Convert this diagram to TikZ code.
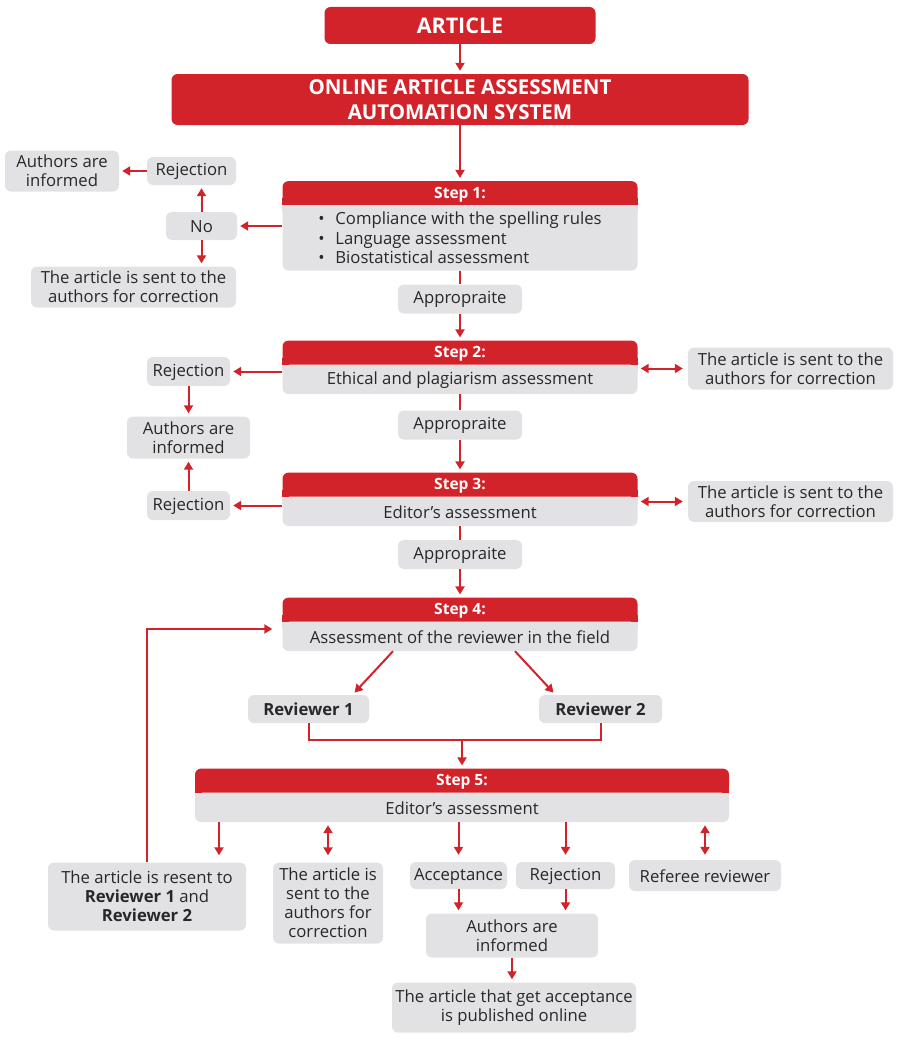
\documentclass[tikz,border=0pt]{standalone}
\usepackage{fontspec}
\setmainfont{Open Sans}
\usetikzlibrary{positioning,arrows.meta}
\definecolor{artred}{RGB}{210,35,42}
\definecolor{boxgray}{RGB}{226,226,228}
\definecolor{txtgray}{RGB}{40,40,40}

\tikzset{
  titlebox/.style={rectangle, rounded corners=6pt, fill=artred, text=white, inner sep=0pt, align=center, font=\bfseries\fontsize{20.5}{25}\selectfont},
  bodybox/.style={rectangle, rounded corners=6pt, fill=boxgray, text=txtgray, inner sep=0pt, align=center, font=\fontsize{16.7}{19}\selectfont},
  linebox/.style={bodybox, text height=14pt},
  headbox/.style={rectangle, rounded corners=6pt, fill=artred, text=white, inner sep=0pt, minimum height=24pt, text height=14pt, font=\bfseries\fontsize{15.5}{18}\selectfont},
  link/.style={line width=2pt, artred},
  arr/.style={link, ->, >={Triangle[length=8pt,width=9pt]}, shorten >=3pt},
  darr/.style={link, <->, >={Triangle[length=8pt,width=9pt]}, shorten >=3pt, shorten <=3pt},
}

\begin{document}
\begin{tikzpicture}[x=1pt, y=-1pt]
\useasboundingbox (0,0) rectangle (900,1049);

\node[titlebox, minimum width=271pt, minimum height=37pt, font=\bfseries\fontsize{21.5}{25}\selectfont] (art) at (460,25.5) {ARTICLE};
\node[titlebox, minimum width=577pt, minimum height=51pt] (oaas) at (460,99.5) {ONLINE ARTICLE ASSESSMENT\\AUTOMATION SYSTEM};

% steps
\node[bodybox, minimum width=355pt, minimum height=65pt, align=left, font=\fontsize{16.7}{19.5}\selectfont] (s1) at (460,238) {\makebox[17pt][l]{•}Compliance with the spelling rules\\\makebox[17pt][l]{•}Language assessment\\\makebox[17pt][l]{•}Biostatistical assessment};
\node[headbox, minimum width=355pt, above=0pt of s1] (h1) {Step 1:};
\node[linebox, minimum width=355pt, minimum height=29pt] (s2) at (460,379.5) {Ethical and plagiarism assessment};
\node[headbox, minimum width=355pt, above=0pt of s2] (h2) {Step 2:};
\node[linebox, minimum width=355pt, minimum height=29pt] (s3) at (460,511.5) {Editor’s assessment};
\node[headbox, minimum width=355pt, above=0pt of s3] (h3) {Step 3:};
\node[linebox, minimum width=355pt, minimum height=29pt] (s4) at (460,636.5) {Assessment of the reviewer in the field};
\node[headbox, minimum width=355pt, above=0pt of s4] (h4) {Step 4:};
\node[linebox, minimum width=534pt, minimum height=29pt] (s5) at (462,807.5) {Editor’s assessment};
\node[headbox, minimum width=534pt, above=0pt of s5] (h5) {Step 5:};
\foreach \s in {1,...,5} {
  \fill[artred] (h\s.south west) rectangle ([xshift=7pt,yshift=7pt]h\s.south west);
  \fill[artred] (h\s.south east) rectangle ([xshift=-7pt,yshift=7pt]h\s.south east);
  \fill[boxgray] (s\s.north west) rectangle ([xshift=7pt,yshift=-7pt]s\s.north west);
  \fill[boxgray] (s\s.north east) rectangle ([xshift=-7pt,yshift=-7pt]s\s.north east);
}

\node[linebox, minimum width=124pt, minimum height=29pt] (app1) at (460,299) {Appropraite};
\node[linebox, minimum width=124pt, minimum height=29pt] (app2) at (460,425) {Appropraite};
\node[linebox, minimum width=124pt, minimum height=29pt] (app3) at (460,554.5) {Appropraite};

% left of step 1
\node[linebox, minimum width=71pt, minimum height=28pt] (no) at (201.5,226) {No};
\node[linebox, minimum width=89pt, minimum height=28pt] (rej1) at (191.5,171) {Rejection};
\node[bodybox, minimum width=114pt, minimum height=41pt] (inf1) at (62,171) {Authors are\\informed};
\node[bodybox, minimum width=205pt, minimum height=41pt] (corr1) at (133.5,287) {The article is sent to the\\authors for correction};

% steps 2 and 3, sides
\node[linebox, minimum width=83pt, minimum height=29pt] (rej2) at (188.5,371.5) {Rejection};
\node[bodybox, minimum width=123pt, minimum height=42pt] (inf2) at (188.5,437.5) {Authors are\\informed};
\node[linebox, minimum width=83pt, minimum height=29pt] (rej3) at (188.5,505.5) {Rejection};
\node[bodybox, minimum width=205pt, minimum height=42pt] (corr2) at (790.5,368.5) {The article is sent to the\\authors for correction};
\node[bodybox, minimum width=205pt, minimum height=41pt] (corr3) at (790.5,501.5) {The article is sent to the\\authors for correction};

% reviewers
\node[linebox, minimum width=121pt, minimum height=28pt, font=\bfseries\fontsize{16.7}{19}\selectfont] (rev1) at (308.5,709) {Reviewer 1};
\node[linebox, minimum width=123pt, minimum height=28pt, font=\bfseries\fontsize{16.7}{19}\selectfont] (rev2) at (600.5,709) {Reviewer 2};

% below step 5
\node[bodybox, minimum width=198pt, minimum height=68pt] (resent) at (147,896.5) {The article is resent to\\\textbf{Reviewer 1} and\\\textbf{Reviewer 2}};
\node[bodybox, minimum width=110pt, minimum height=81pt] (corr5) at (328,903) {The article is\\sent to the\\authors for\\correction};
\node[linebox, minimum width=97pt, minimum height=27pt] (acc) at (458.5,875.5) {Acceptance};
\node[linebox, minimum width=99pt, minimum height=27pt] (rej5) at (565.5,875.5) {Rejection};
\node[linebox, minimum width=152pt, minimum height=31pt] (ref) at (705,875.5) {Referee reviewer};
\node[bodybox, minimum width=172pt, minimum height=44pt] (inf5) at (512,935.5) {Authors are\\informed};
\node[bodybox, minimum width=244pt, minimum height=50pt] (pub) at (514,1007.5) {The article that get acceptance\\is published online};

% connectors
\draw[arr] (art) -- (oaas);
\draw[arr] (oaas) -- (h1);
\draw[arr] (s1.west |- no.east) -- (no.east);
\draw[arr] (no.north) -- (no.north |- rej1.south);
\draw[arr] (rej1.west) -- (rej1.west -| inf1.east);
\draw[arr] (no.south) -- (no.south |- corr1.north);
\draw[link] (s1) -- (app1);
\draw[arr] (app1) -- (h2);

\draw[arr] (s2.west |- rej2.east) -- (rej2.east);
\draw[arr] (rej2) -- (inf2);
\draw[darr, shorten >=5pt] (s2.east |- corr2.west) -- (corr2.west);
\draw[link] (s2) -- (app2);
\draw[arr] (app2) -- (h3);

\draw[arr] (s3.west |- rej3.east) -- (rej3.east);
\draw[arr] (rej3) -- (inf2);
\draw[darr, shorten >=5pt] (s3.east |- corr3.west) -- (corr3.west);
\draw[link] (s3) -- (app3);
\draw[arr] (app3) -- (h4);

\draw[arr] ([xshift=-67pt]s4.south) -- ([xshift=44pt]rev1.north);
\draw[arr] ([xshift=55pt]s4.south) -- ([xshift=-45pt]rev2.north);
\draw[link] (rev1.south) -- ++(0,17) coordinate (rjoin) -| (rev2.south);
\draw[arr] (rjoin -| h5.north) -- (h5.north);

\draw[arr, shorten >=7pt] ([xshift=72pt]resent.north |- s5.south) -- ([xshift=72pt]resent.north);
\draw[darr, shorten >=7pt] (corr5.north |- s5.south) -- (corr5.north);
\draw[arr, shorten >=7pt] (acc.north |- s5.south) -- (acc.north);
\draw[arr, shorten >=7pt] (rej5.north |- s5.south) -- (rej5.north);
\draw[darr, shorten >=5pt] (ref.north |- s5.south) -- (ref.north);
\draw[arr] (acc.south) -- (acc.south |- inf5.north);
\draw[arr] (rej5.south) -- (rej5.south |- inf5.north);
\draw[arr] (inf5.south) -- (inf5.south |- pub.north);
\draw[arr, shorten >=10pt] (resent.north) |- ([yshift=7.5pt]s4.west);
\end{tikzpicture}
\end{document}
